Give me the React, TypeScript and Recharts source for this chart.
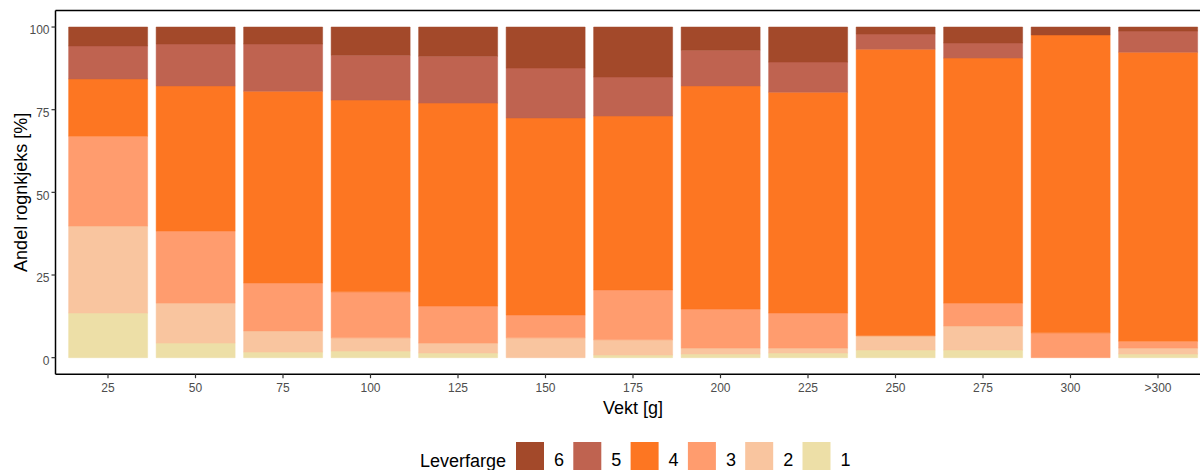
import React from "react";
import { BarChart, Bar, XAxis, YAxis, ReferenceLine } from "recharts";

const categories = ["25", "50", "75", "100", "125", "150", "175", "200", "225", "250", "275", "300", ">300"];
const level1 = [13.5, 4.4, 1.7, 2.0, 1.4, 0, 0.8, 1.1, 1.4, 2.3, 2.3, 0, 1.1];
const level2 = [26.3, 12.1, 6.4, 4.0, 3.0, 6.0, 4.6, 1.8, 1.5, 4.3, 7.3, 0, 1.8];
const level3 = [27.2, 21.8, 14.5, 13.9, 11.2, 6.9, 15.1, 11.8, 10.6, 0, 6.9, 7.5, 2.1];
const level4 = [17.3, 43.9, 58.0, 58.0, 61.4, 59.6, 52.6, 67.5, 66.8, 86.7, 74.1, 90.1, 87.4];
const level5 = [10.0, 12.7, 14.3, 13.6, 14.2, 15.1, 11.8, 10.8, 9.1, 4.6, 4.6, 0, 6.4];
const level6 = [5.7, 5.1, 5.1, 8.5, 8.8, 12.4, 15.1, 7.0, 10.6, 2.1, 4.8, 2.4, 1.2];
const yTicks = [0, 25, 50, 75, 100];

const seriesKeys = ["c1", "c2", "c3", "c4", "c5", "c6"];
const seriesNames = ["1", "2", "3", "4", "5", "6"];
const seriesColors = ["#EDDFA7", "#F9C59F", "#FF9C6E", "#FD7622", "#BF6350", "#A3492A"];

const data = categories.map((cat, i) => ({
  cat,
  c1: level1[i],
  c2: level2[i],
  c3: level3[i],
  c4: level4[i],
  c5: level5[i],
  c6: level6[i],
}));

const FONT = "'Liberation Sans', Arial, Helvetica, sans-serif";

const YTick = (props: any) => {
  const { x, y, payload } = props;
  return (
    <text x={x} y={y + 3} dy="0.355em" textAnchor="end" fontSize={12} fill="#4d4d4d" fontFamily={FONT}>
      {payload.value}
    </text>
  );
};

const XTick = (props: any) => {
  const { x, y, payload } = props;
  return (
    <text x={x} y={y} dy="0.71em" textAnchor="middle" fontSize={12} fill="#4d4d4d" fontFamily={FONT}>
      {payload.value}
    </text>
  );
};

const YTitle = (props: any) => {
  const vb = props.viewBox || {};
  const cy = (vb.y || 0) + (vb.height || 0) / 2;
  const x = 27;
  return (
    <text x={x} y={cy} transform={`rotate(-90, ${x}, ${cy})`} textAnchor="middle" fontSize={18} fill="#000" fontFamily={FONT}>
      Andel rognkjeks [%]
    </text>
  );
};

const XTitle = (props: any) => {
  const vb = props.viewBox || {};
  const cx = (vb.x || 0) + (vb.width || 0) / 2;
  return (
    <text x={cx} y={414} textAnchor="middle" fontSize={18} fill="#000" fontFamily={FONT}>
      Vekt [g]
    </text>
  );
};

const LegendBlock = () => {
  const order = [5, 4, 3, 2, 1, 0];
  const startX = 516;
  const step = 57.3;
  return (
    <svg width={1230} height={40} style={{ position: "absolute", left: 0, top: 430, display: "block" }}>
      <text x={506} y={36.5} textAnchor="end" fontSize={18} fill="#000" fontFamily={FONT}>
        Leverfarge
      </text>
      {order.map((idx, i) => (
        <g key={seriesKeys[idx]}>
          <rect x={startX + i * step} y={12} width={28} height={28} fill={seriesColors[idx]} />
          <text x={startX + i * step + 38} y={36} fontSize={18} fill="#000" fontFamily={FONT}>
            {seriesNames[idx]}
          </text>
        </g>
      ))}
    </svg>
  );
};

export default function App() {
  return (
    <div style={{ position: "absolute", left: 0, top: 0, width: 1200, height: 470, overflow: "hidden", background: "#fff" }}>
      <BarChart
        width={1230}
        height={470}
        data={data}
        margin={{ top: 10.5, right: 19.5, bottom: 65.8, left: 0 }}
        barCategoryGap="5%"
      >
        <XAxis
          dataKey="cat"
          padding={{ left: 8.75, right: 8.75 }}
          height={30}
          tickSize={4}
          tickMargin={5}
          tickLine={{ stroke: "#333", strokeWidth: 1.2 }}
          axisLine={{ stroke: "#000", strokeWidth: 1.5 }}
          tick={<XTick />}
          interval={0}
          label={<XTitle />}
        />
        <YAxis
          type="number"
          domain={[-5, 105]}
          ticks={yTicks}
          width={55.5}
          tickSize={4}
          tickMargin={2}
          tickLine={{ stroke: "#333", strokeWidth: 1.2 }}
          axisLine={{ stroke: "#000", strokeWidth: 1.5 }}
          tick={<YTick />}
          label={<YTitle />}
        />
        <ReferenceLine y={105} stroke="#000" strokeWidth={1.5} />
        {seriesKeys.map((k, i) => (
          <Bar
            key={k}
            dataKey={k}
            name={seriesNames[i]}
            stackId="a"
            fill={seriesColors[i]}
            stroke={seriesColors[i]}
            strokeWidth={0.5}
            isAnimationActive={false}
          />
        ))}
      </BarChart>
      <LegendBlock />
    </div>
  );
}
